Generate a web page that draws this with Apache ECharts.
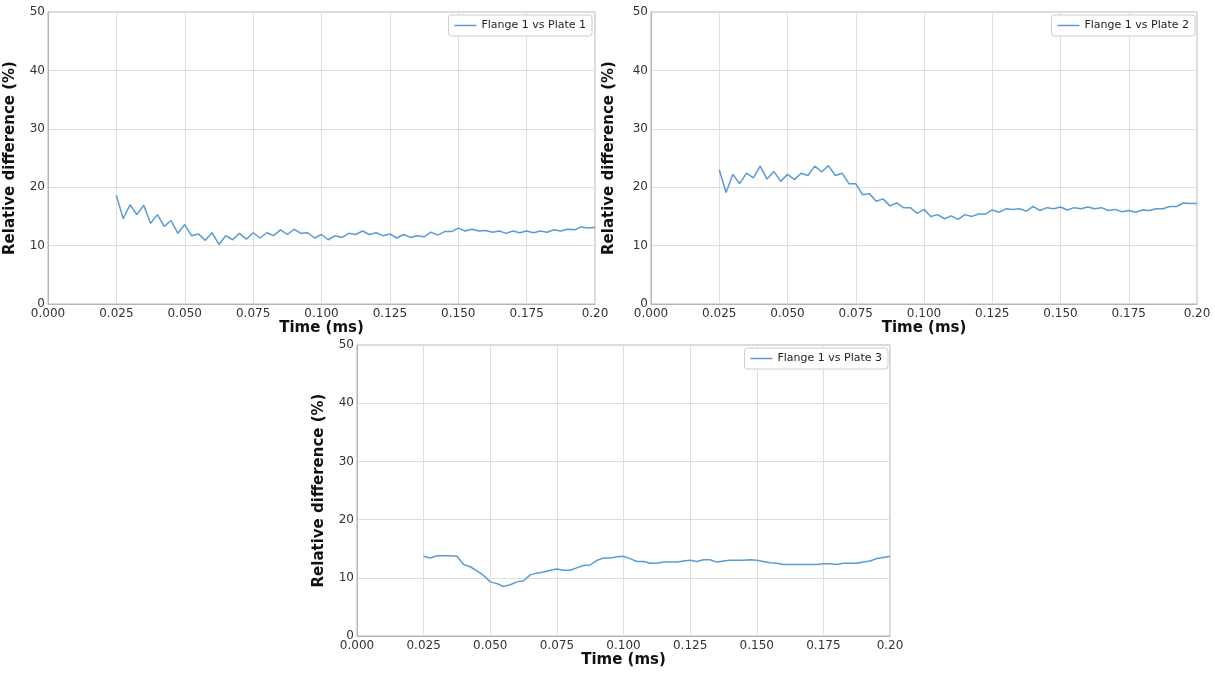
<!DOCTYPE html>
<html>
<head>
<meta charset="utf-8">
<script src="https://cdn.jsdelivr.net/npm/echarts@6/dist/echarts.min.js"></script>
<style>
html,body{margin:0;padding:0;background:#fff;}
#box{width:1215px;height:673px;}
</style>
</head>
<body>
<div id="box"></div>
<script>
// temps (ms), pas de 0.0025
var time = [];
for (var i = 0; i <= 70; i++) { time.push(+(0.025 + i * 0.0025).toFixed(4)); }

var plate1 = [18.6,14.6,17.0,15.3,16.9,13.8,15.3,13.3,14.3,12.1,13.6,11.7,12.0,10.9,12.2,10.2,11.7,11.0,12.1,11.1,
	12.2,11.3,12.2,11.7,12.7,11.9,12.8,12.1,12.2,11.3,11.9,11.0,11.7,11.4,12.1,11.9,12.5,11.9,12.2,11.7,
	12.0,11.3,11.9,11.4,11.7,11.5,12.3,11.8,12.4,12.4,13.0,12.5,12.8,12.5,12.6,12.3,12.5,12.1,12.5,12.2,
	12.5,12.2,12.5,12.3,12.7,12.5,12.8,12.7,13.2,13.0,13.1];
var plate2 = [23.0,19.1,22.2,20.6,22.4,21.6,23.6,21.4,22.7,21.0,22.2,21.3,22.4,22.0,23.6,22.6,23.7,22.0,22.4,20.6,
	20.6,18.7,18.9,17.6,18.0,16.8,17.3,16.5,16.5,15.5,16.2,15.0,15.3,14.6,15.1,14.5,15.3,15.0,15.4,15.4,
	16.1,15.7,16.3,16.2,16.3,15.9,16.7,16.0,16.5,16.3,16.6,16.1,16.5,16.3,16.6,16.3,16.5,16.0,16.2,15.8,
	16.0,15.7,16.1,16.0,16.3,16.3,16.7,16.7,17.3,17.2,17.2];
var plate3 = [13.7,13.4,13.8,13.8,13.8,13.7,12.3,11.9,11.2,10.4,9.3,9.0,8.5,8.8,9.3,9.5,10.5,10.8,11.0,11.3,
	11.5,11.3,11.3,11.7,12.1,12.2,13.0,13.4,13.4,13.6,13.7,13.3,12.8,12.8,12.5,12.5,12.7,12.7,12.7,12.9,
	13.0,12.8,13.1,13.1,12.7,12.9,13.0,13.0,13.0,13.1,13.0,12.8,12.6,12.5,12.3,12.3,12.3,12.3,12.3,12.3,
	12.4,12.4,12.3,12.5,12.5,12.5,12.7,12.9,13.3,13.5,13.7];
var names = ["Flange 1 vs Plate 1","Flange 1 vs Plate 2","Flange 1 vs Plate 3"];
var xTicks = [0, 0.2, 0.025];   // min, max, interval
var yTicks = [0, 50, 10];

var font = "DejaVu Sans";
var lineColor = "#5b9bd5";

function pairs(vals){
	var d = [];
	for (var i = 0; i < vals.length; i++) { d.push([time[i], vals[i]]); }
	return d;
}

var grids = [
	{left:48, top:12, width:547, height:292},
	{left:651, top:12, width:546, height:292},
	{left:357, top:345, width:533, height:291}
];
var yGaps = [30, 34, 30];
var legendPos = [
	{right:1215-592, top:15},
	{right:1215-1195, top:15},
	{right:1215-888, top:348}
];

var option = {
	backgroundColor:'#fff',
	animation:false,
	textStyle:{fontFamily:font},
	grid:[], xAxis:[], yAxis:[], series:[], legend:[]
};

for (var k = 0; k < 3; k++) {
	var g = grids[k];
	option.grid.push({left:g.left, top:g.top, width:g.width, height:g.height,
		show:true, borderColor:'#b5b5b5', borderWidth:1, backgroundColor:'transparent'});
	option.xAxis.push({
		type:'value', gridIndex:k, min:xTicks[0], max:xTicks[1], interval:xTicks[2],
		name:'Time (ms)', nameLocation:'middle', nameGap:17,
		nameTextStyle:{fontFamily:font, fontSize:15, fontWeight:'bold', color:'#111'},
		axisLine:{show:true, lineStyle:{color:'#b5b5b5'}},
		axisTick:{show:false},
		axisLabel:{fontFamily:font, fontSize:12, color:'#333', margin:4,
			formatter:function(v){ return v === 0.2 ? '0.20' : v.toFixed(3); }},
		splitLine:{show:true, lineStyle:{color:'#dedede'}}
	});
	option.yAxis.push({
		type:'value', gridIndex:k, min:yTicks[0], max:yTicks[1], interval:yTicks[2],
		name:'Relative difference (%)', nameLocation:'middle', nameGap:yGaps[k],
		nameTextStyle:{fontFamily:font, fontSize:15, fontWeight:'bold', color:'#111'},
		axisLine:{show:true, lineStyle:{color:'#b5b5b5'}},
		axisTick:{show:false},
		axisLabel:{fontFamily:font, fontSize:12, color:'#333', margin:3},
		splitLine:{show:true, lineStyle:{color:'#dedede'}}
	});
	option.series.push({
		name:names[k], type:'line', xAxisIndex:k, yAxisIndex:k,
		data:pairs([plate1, plate2, plate3][k]),
		symbol:'none', lineStyle:{color:lineColor, width:1.5}, itemStyle:{color:lineColor}
	});
	option.legend.push({
		data:[names[k]], right:legendPos[k].right, top:legendPos[k].top,
		icon:'rect', itemWidth:22, itemHeight:1.5,
		backgroundColor:'#fff', borderColor:'#cccccc', borderWidth:1, borderRadius:3,
		padding:[5,6,5,6],
		textStyle:{fontFamily:font, fontSize:11, color:'#222'}
	});
}

var chart = echarts.init(document.getElementById('box'));
chart.setOption(option);
</script>
</body>
</html>
